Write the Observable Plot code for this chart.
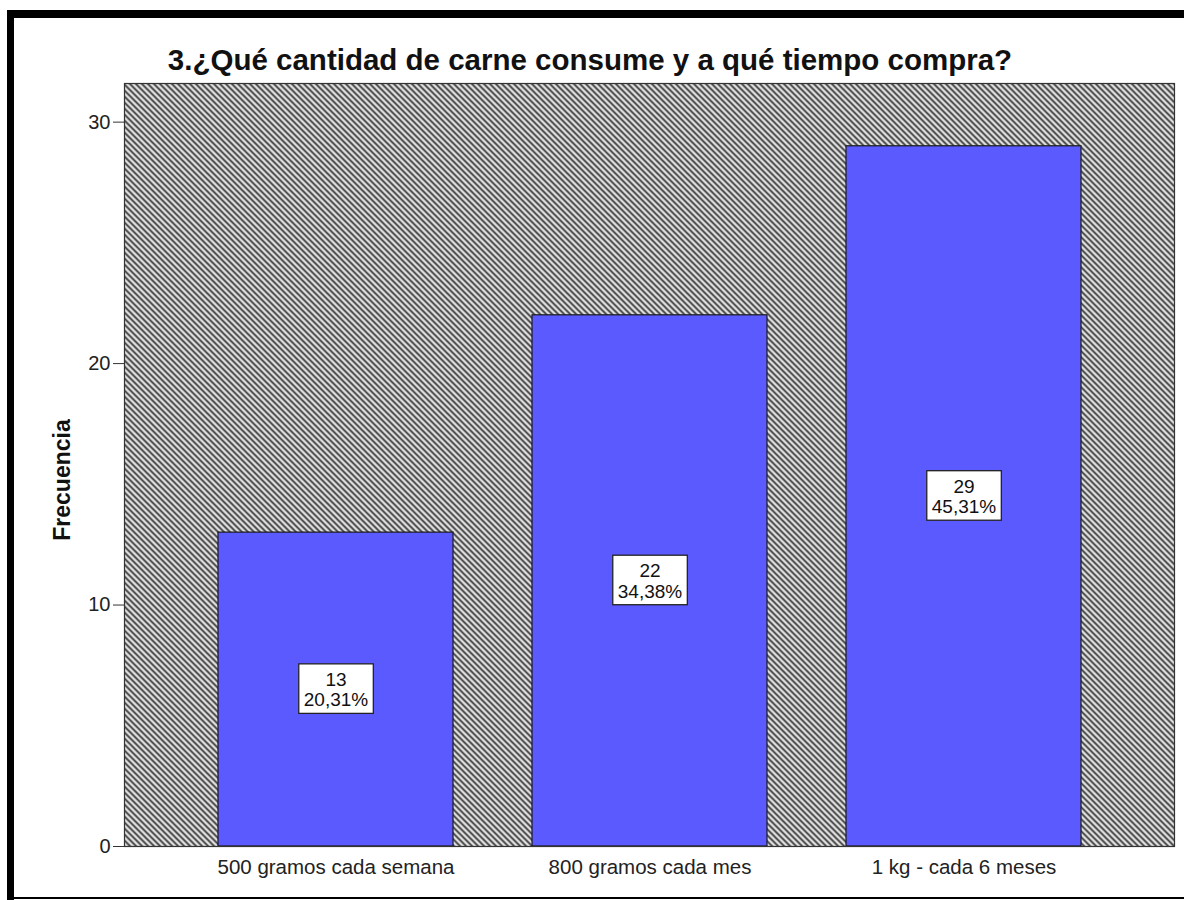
<!DOCTYPE html>
<html>
<head>
<meta charset="utf-8">
<script src="https://cdn.jsdelivr.net/npm/d3@7"></script>
<script src="https://cdn.jsdelivr.net/npm/@observablehq/plot@0.6"></script>
<style>
  html, body { margin: 0; padding: 0; background: #fff; }
  #wrap { position: relative; width: 1184px; height: 900px; overflow: hidden; background: #fff; font-family: "Liberation Sans", Arial, sans-serif; }
  #frameL { position: absolute; left: 7px; top: 10px; width: 7px; height: 890px; background: #000; }
  #frameT { position: absolute; left: 7px; top: 10px; width: 1177px; height: 8px; background: #000; }
  #frameB { position: absolute; left: 7px; top: 897px; width: 1177px; height: 2px; background: #000; }
  #title { position: absolute; left: 0; top: 0; width: 1184px; height: 80px; }
  #title span { position: absolute; left: 0; width: 1180px; top: 43px; text-align: center; font-weight: bold; font-size: 29.5px; color: #111; }
  #chart { position: absolute; left: 0; top: 80px; }
</style>
</head>
<body>
<div id="wrap">
  <div id="frameL"></div>
  <div id="frameT"></div>
  <div id="frameB"></div>
  <div id="title"><span>3.¿Qué cantidad de carne consume y a qué tiempo compra?</span></div>
  <div id="chart"></div>
</div>
<script>
const categories = ["500 gramos cada semana", "800 gramos cada mes", "1 kg - cada 6 meses"];
const frequencies = [13, 22, 29];
const percents = ["20,31%", "34,38%", "45,31%"];
const yTicks = [0, 10, 20, 30];
const yLabel = "Frecuencia";

const data = categories.map((c, i) => ({cat: c, n: frequencies[i], pct: percents[i]}));

const svg = Plot.plot({
  width: 1184,
  height: 820,
  marginTop: 3,
  marginBottom: 54,
  marginLeft: 124,
  marginRight: 10,
  style: {fontFamily: "'Liberation Sans', Arial, sans-serif", fontSize: "20px", color: "#222", background: "transparent"},
  x: {domain: categories, paddingInner: 0.2528, paddingOuter: 0.296, label: null},
  y: {domain: [0, 31.6], label: null},
  marks: [
    Plot.frame({fill: "url(#hatch)", stroke: "none"}),
    Plot.barY(data, {x: "cat", y: "n", fill: "#5a5aff", stroke: "#1a1a1a", strokeWidth: 1.2}),
    Plot.text(data, {x: "cat", y: d => d.n / 2, text: d => `${d.n}\n${d.pct}`, fill: "#111", fontSize: 19, lineHeight: 1.08, className: "vlabel"}),
    Plot.axisY({ticks: yTicks, tickSize: 11, tickPadding: 3, fontSize: 20, tickFormat: d => String(d), label: null, stroke: "#333"}),
    Plot.axisX({tickSize: 0, tickPadding: 13, fontSize: 20.5, label: null}),
    Plot.text([yLabel], {frameAnchor: "left", textAnchor: "middle", rotate: -90, dx: -62, dy: 15, fontWeight: "bold", fontSize: 23, fill: "#111"}),
    Plot.frame({stroke: "#333", strokeWidth: 1.2})
  ]
});
document.getElementById("chart").appendChild(svg);

// hatch pattern definition
const root = d3.select(svg);
const defs = root.insert("defs", ":first-child");
const P = 6;
const pat = defs.append("pattern")
  .attr("id", "hatch")
  .attr("patternUnits", "userSpaceOnUse")
  .attr("width", P).attr("height", P);
pat.append("rect").attr("width", P).attr("height", P).attr("fill", "#e6e6e6");
pat.append("path")
  .attr("d", `M-1,-1L${P + 1},${P + 1}M-1,${P - 1}L1,${P + 1}M${P - 1},-1L${P + 1},1`)
  .attr("stroke", "#2e2e2e").attr("stroke-width", 1.7);

// white boxes behind value labels
root.selectAll("g.vlabel text").each(function() {
  const b = this.getBBox();
  const padX = 5, padTop = 5, padBot = 3;
  d3.select(this.parentNode).insert("rect", () => this)
    .attr("x", b.x - padX).attr("y", b.y - padTop)
    .attr("width", b.width + 2 * padX).attr("height", b.height + padTop + padBot)
    .attr("fill", "#fff").attr("stroke", "#222").attr("stroke-width", 1.3)
    .attr("transform", this.getAttribute("transform"));
});
</script>
</body>
</html>
